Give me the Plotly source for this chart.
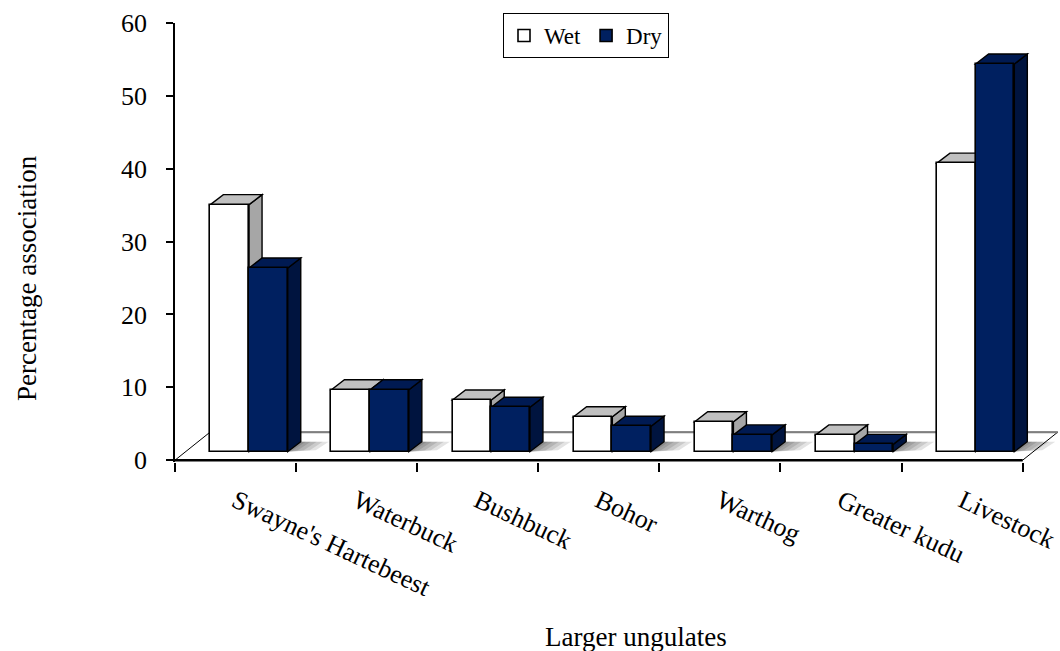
import numpy as np
import plotly.graph_objects as go

# ---------------- data ----------------
categories = ["Swayne's Hartebeest", "Waterbuck", "Bushbuck", "Bohor",
              "Warthog", "Greater kudu", "Livestock"]
wet = [33.9, 8.5, 7.1, 4.8, 4.1, 2.3, 39.6]
dry = [25.2, 8.5, 6.1, 3.5, 2.3, 1.0, 53.2]
y_ticks = [0, 10, 20, 30, 40, 50, 60]
series_names = ["Wet", "Dry"]

# ---------------- layout geometry (styling) ----------------
W, H = 1060, 651
L_PX, R_PX, T_PX, B_PX = 175, 1059, 23, 462
XMAX = 7.3
YMIN, YMAX = -0.25, 60
px_x = (R_PX - L_PX) / XMAX
px_y = (B_PX - T_PX) / (YMAX - YMIN)

shift = 13.5 / px_x          # bars sit slightly back on the floor
lift = 8.5 / px_y
bw = 38.7 / px_x             # width of one bar
ddx, ddy = 13 / px_x, 10 / px_y   # bar depth
fdx, fdy = 35 / px_x, 28 / px_y   # floor depth

FONT = "Liberation Serif"
WET_FRONT, WET_TOP, WET_SIDE = "#ffffff", "#c0c0c0", "#a6a6a6"
DRY_FRONT, DRY_TOP, DRY_SIDE = "#002060", "#001a52", "#00143f"

n = len(categories)
centers = np.arange(n) + 0.5 + shift

fig = go.Figure()
fig.add_trace(go.Bar(name=series_names[0], x=centers, y=wet, base=lift,
                     offset=-bw, width=bw,
                     marker=dict(color=WET_FRONT, line=dict(color="black", width=1.6))))
fig.add_trace(go.Bar(name=series_names[1], x=centers, y=dry, base=lift,
                     offset=0, width=bw,
                     marker=dict(color=DRY_FRONT, line=dict(color="black", width=1.6))))
# invisible trace to host the category label axis
fig.add_trace(go.Scatter(x=np.arange(n) + 0.5, y=[0] * n, xaxis="x2",
                         mode="markers", marker=dict(opacity=0),
                         showlegend=False, hoverinfo="skip"))

shapes = []
# floor
shapes.append(dict(type="path", layer="below", xref="x", yref="y",
                   path=f"M 0,0 L {n},0 L {n+fdx},{fdy} L {fdx},{fdy} Z",
                   fillcolor="white", line=dict(color="black", width=1)))
shapes.append(dict(type="line", layer="below", xref="x", yref="y",
                   x0=fdx, y0=fdy, x1=n + fdx, y1=fdy,
                   line=dict(color="#7f7f7f", width=2)))


def poly(pts):
    return "M " + " L ".join(f"{a},{b}" for a, b in pts) + " Z"


for i in range(n):
    c = centers[i]
    # soft floor shadow to the right of each pair
    xr = c + bw
    for wpx in [28, 22, 16, 10, 5]:
        wd = wpx / px_x
        shapes.append(dict(type="path", layer="below", xref="x", yref="y",
                           path=poly([(xr, lift), (xr + wd, lift + 1.5 / px_y),
                                      (xr + wd + ddx, lift + ddy), (xr + ddx, lift + ddy)]),
                           fillcolor="rgba(0,0,0,0.11)", line=dict(width=0)))
    for val, x0, top_c, side_c in [(wet[i], c - bw, WET_TOP, WET_SIDE),
                                   (dry[i], c, DRY_TOP, DRY_SIDE)]:
        x1 = x0 + bw
        t = lift + val
        shapes.append(dict(type="path", layer="below", xref="x", yref="y",
                           path=poly([(x1, lift), (x1, t), (x1 + ddx, t + ddy),
                                      (x1 + ddx, lift + ddy)]),
                           fillcolor=side_c, line=dict(color="black", width=1.4)))
        shapes.append(dict(type="path", layer="below", xref="x", yref="y",
                           path=poly([(x0, t), (x1, t), (x1 + ddx, t + ddy),
                                      (x0 + ddx, t + ddy)]),
                           fillcolor=top_c, line=dict(color="black", width=1.4)))

# front edge of floor (category axis line)
shapes.append(dict(type="line", layer="above", xref="x", yref="y",
                   x0=0, y0=0, x1=n, y1=0, line=dict(color="black", width=2.5)))

fig.update_layout(
    width=W, height=H,
    margin=dict(l=L_PX, r=W - R_PX, t=T_PX, b=H - B_PX, autoexpand=False),
    paper_bgcolor="white", plot_bgcolor="white",
    barmode="overlay", bargap=0,
    font=dict(family=FONT, color="black", size=24),
    shapes=shapes,
    showlegend=True,
    legend=dict(orientation="h", x=(503 - L_PX) / (R_PX - L_PX),
                y=(B_PX - 13) / (B_PX - T_PX), xanchor="left", yanchor="top",
                bordercolor="black", borderwidth=1, bgcolor="white",
                font=dict(family=FONT, size=23), itemwidth=30,
                tracegroupgap=0, traceorder="normal"),
    xaxis=dict(range=[0, XMAX], tickvals=list(range(n + 1)), ticks="outside",
               ticklen=9, tickwidth=1.5, tickcolor="black", automargin=False,
               showticklabels=False, showline=False, showgrid=False, zeroline=False),
    xaxis2=dict(range=[0, XMAX], overlaying="x", anchor="y", side="bottom",
                tickvals=list(np.arange(n) + 0.5), ticktext=categories,
                tickangle=25, ticks="", showline=False, showgrid=False,
                zeroline=False, tickfont=dict(family=FONT, size=26),
                ticklabelstandoff=18, ticklabeloverflow="allow", automargin=False),
    yaxis=dict(range=[YMIN, YMAX], tickvals=y_ticks, ticks="outside",
               ticklen=7, tickwidth=1.5, tickcolor="black", automargin=False,
               showline=True, linecolor="black", linewidth=1.6,
               showgrid=False, zeroline=False,
               tickfont=dict(family=FONT, size=26), ticklabelstandoff=14),
    annotations=[
        dict(text="Larger ungulates", xref="paper", yref="paper",
             x=(636 - L_PX) / (R_PX - L_PX), y=(B_PX - 637) / (B_PX - T_PX),
             xanchor="center", yanchor="middle", showarrow=False,
             font=dict(family=FONT, size=27)),
        dict(text="Percentage association", xref="paper", yref="paper",
             x=(27 - L_PX) / (R_PX - L_PX), y=(B_PX - 278) / (B_PX - T_PX),
             xanchor="center", yanchor="middle", textangle=-90, showarrow=False,
             font=dict(family=FONT, size=27)),
    ],
)

fig.write_html("out.html")
